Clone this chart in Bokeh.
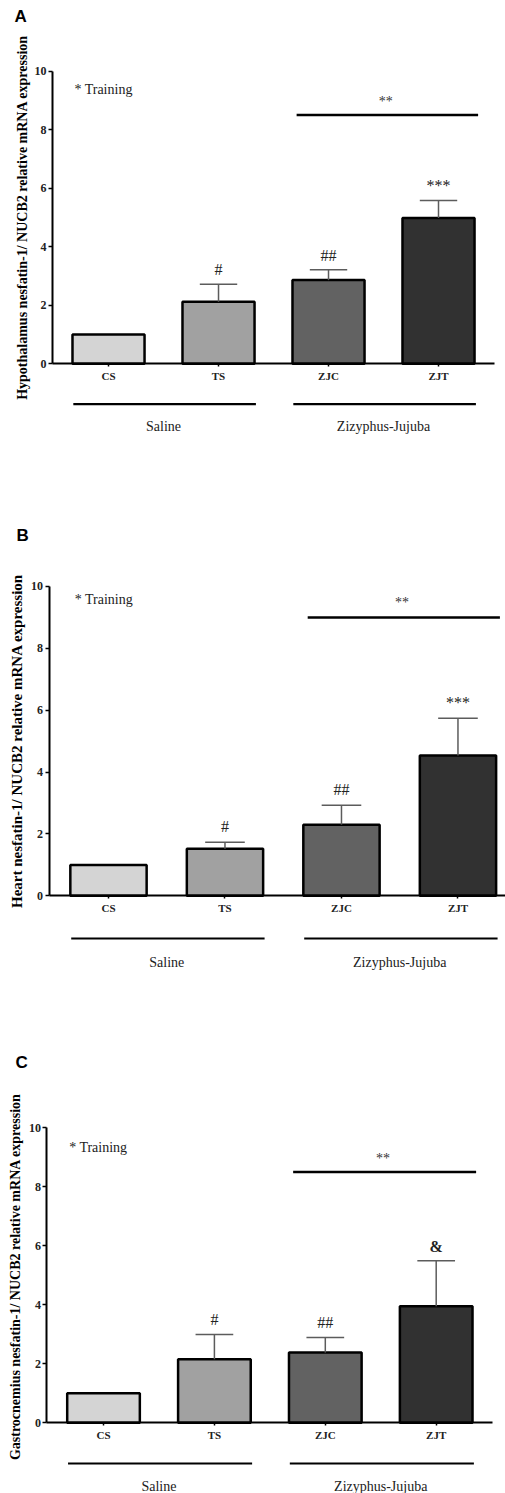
from bokeh.plotting import figure
from bokeh.models import LinearAxis, FixedTicker, ColumnDataSource, Range1d
from bokeh.layouts import column
from bokeh.embed import file_html
from bokeh.resources import INLINE
from bokeh.core.properties import value

# ---------------- data ----------------
categories = ["CS", "TS", "ZJC", "ZJT"]
bar_colors = ["#d4d4d4", "#a1a1a1", "#626262", "#313131"]
y_ticks = [0, 2, 4, 6, 8, 10]
groups = ["Saline", "Zizyphus-Jujuba"]

hypothalamus_mean = [1.0, 2.12, 2.86, 4.98]
hypothalamus_sem = [0.0, 0.60, 0.35, 0.60]
hypothalamus_marks = ["", "#", "##", "***"]

heart_mean = [1.0, 1.52, 2.30, 4.54]
heart_sem = [0.0, 0.21, 0.63, 1.20]
heart_marks = ["", "#", "##", "***"]

gastro_mean = [1.0, 2.15, 2.38, 3.95]
gastro_sem = [0.0, 0.84, 0.51, 1.54]
gastro_marks = ["", "#", "##", "&"]

SERIF = value("Liberation Serif")


def make_panel(letter, ylabel, means, sems, marks, height, xr, yr,
               letter_xy, training_xy, bracket_y, xaxis_end, lab_size, lab_standoff):
    p = figure(width=505, height=height, output_backend="svg", toolbar_location=None,
               x_range=Range1d(*xr), y_range=Range1d(*yr),
               x_axis_location=None, y_axis_location=None, title=None,
               min_border=0, min_border_left=0, min_border_right=0,
               min_border_top=0, min_border_bottom=0)
    p.outline_line_color = None
    p.background_fill_color = "white"
    p.border_fill_color = "white"
    p.grid.visible = False

    xs = [i + 1 for i in range(len(categories))]

    # bars
    src = ColumnDataSource(dict(x=xs, top=means, color=bar_colors))
    p.vbar(x="x", top="top", bottom=0, width=0.655, fill_color="color",
           line_color="black", line_width=2.5, source=src)

    # error bars (upper only)
    ex = [x for x, s in zip(xs, sems) if s > 0]
    e0 = [m for m, s in zip(means, sems) if s > 0]
    e1 = [m + s for m, s in zip(means, sems) if s > 0]
    p.segment(x0=ex, y0=e0, x1=ex, y1=e1, line_color="#5c5c5c", line_width=1.5)
    p.segment(x0=[x - 0.17 for x in ex], y0=e1, x1=[x + 0.17 for x in ex], y1=e1,
              line_color="#5c5c5c", line_width=1.5)

    # significance marks
    mx = [x for x, mk in zip(xs, marks) if mk]
    my = [m + s + 0.5 for m, s, mk in zip(means, sems, marks) if mk]
    mt = [mk for mk in marks if mk]
    mstyle = ["bold" if mk == "&" else "normal" for mk in mt]
    p.text(x=mx, y=my, text=mt, text_font=SERIF, text_font_size="16px",
           text_font_style=mstyle, text_color="#222222",
           text_align="center", text_baseline="middle")

    # bracket **
    p.segment(x0=[2.71], y0=[bracket_y], x1=[4.36], y1=[bracket_y],
              line_color="black", line_width=2.5)
    p.text(x=[3.52], y=[bracket_y + 0.47], text=["**"], text_font=SERIF,
           text_font_size="14px", text_color="#333333",
           text_align="center", text_baseline="middle")

    # * Training legend
    p.text(x=[training_xy[0]], y=[training_xy[1]], text=["* Training"],
           text_font=SERIF, text_font_size="14px", text_color="#222222",
           text_align="left", text_baseline="middle")

    # group lines and labels
    p.segment(x0=[0.68, 2.68], y0=[-1.38, -1.38], x1=[2.34, 4.34], y1=[-1.38, -1.38],
              line_color="black", line_width=2.2)
    p.text(x=[1.5, 3.5], y=[-2.15, -2.15], text=groups, text_font=SERIF,
           text_font_size="14px", text_color="#222222",
           text_align="center", text_baseline="middle")

    # panel letter
    p.text(x=[letter_xy[0]], y=[letter_xy[1]], text=[letter],
           text_font=value("Liberation Sans"), text_font_style="bold",
           text_font_size="17px", text_color="black",
           text_align="left", text_baseline="middle")

    # axes
    yax = LinearAxis(fixed_location=0.49, bounds=(0, 10),
                     ticker=FixedTicker(ticks=y_ticks, minor_ticks=[]))
    yax.axis_line_width = 2
    yax.axis_line_color = "black"
    yax.major_tick_out = 4
    yax.major_tick_in = 0
    yax.major_tick_line_width = 1.5
    yax.minor_tick_line_color = None
    yax.major_label_standoff = 2
    yax.major_label_text_font = "Liberation Serif"
    yax.major_label_text_font_style = "bold"
    yax.major_label_text_font_size = "12px"
    yax.major_label_text_color = "#222222"
    yax.axis_label = ylabel
    yax.axis_label_text_font = "Liberation Serif"
    yax.axis_label_text_font_style = "bold"
    yax.axis_label_text_font_size = lab_size
    yax.axis_label_text_color = "black"
    yax.axis_label_standoff = lab_standoff
    p.add_layout(yax, "left")

    xax = LinearAxis(fixed_location=0, bounds=(0.49, xaxis_end),
                     ticker=FixedTicker(ticks=xs, minor_ticks=[]),
                     major_label_overrides={x: c for x, c in zip(xs, categories)})
    xax.axis_line_width = 2
    xax.axis_line_color = "black"
    xax.major_tick_out = 3
    xax.major_tick_in = 0
    xax.major_tick_line_width = 1.5
    xax.minor_tick_line_color = None
    xax.major_label_standoff = 3
    xax.major_label_text_font = "Liberation Serif"
    xax.major_label_text_font_style = "bold"
    xax.major_label_text_font_size = "11px"
    xax.major_label_text_color = "#222222"
    p.add_layout(xax, "below")
    return p


pA = make_panel("A", "Hypothalamus nesfatin-1/ NUCB2 relative mRNA expression",
                hypothalamus_mean, hypothalamus_sem, hypothalamus_marks,
                470, (0.018, 4.609), (-3.647, 12.416),
                (0.145, 11.87), (0.69, 9.37), 8.5, 4.51, "14px", 2)
pB = make_panel("B", "Heart nesfatin-1/ NUCB2 relative mRNA expression",
                heart_mean, heart_sem, heart_marks,
                540, (0.073, 4.408), (-3.708, 13.75),
                (0.21, 11.65), (0.71, 9.57), 9.0, 4.41, "15px", 4)
pC = make_panel("C", "Gastrocnemius  nesfatin-1/ NUCB2 relative mRNA expression",
                gastro_mean, gastro_sem, gastro_marks,
                483, (0.071, 4.625), (-2.397, 13.976),
                (0.206, 12.21), (0.69, 9.34), 8.5, 4.505, "14px", 3)

layout = column(pA, pB, pC, spacing=0)
open("out.html", "w").write(file_html(layout, INLINE))
